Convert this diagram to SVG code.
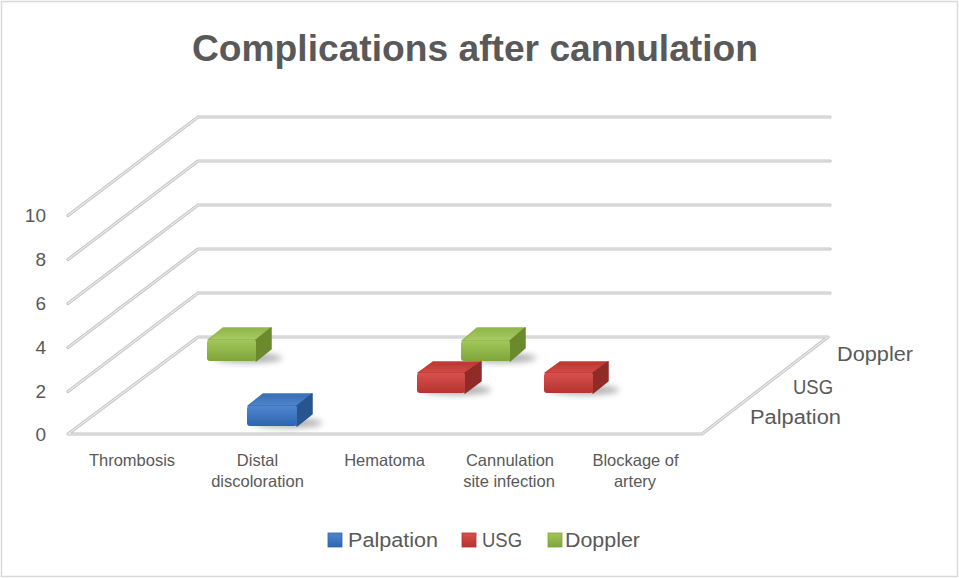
<svg xmlns="http://www.w3.org/2000/svg" width="959" height="578" viewBox="0 0 959 578">
<style>
  text { font-family: "Liberation Sans", Arial, sans-serif; fill: #595959; }
  .title { font-size: 37px; font-weight: bold; }
  .ax { font-size: 19px; text-anchor: end; }
  .cat { font-size: 16.5px; text-anchor: middle; }
  .ser { font-size: 20px; }
  .leg { font-size: 20px; }
  .gridO { fill: none; stroke: #c4c4c4; stroke-width: 3.2; stroke-linejoin: round; stroke-linecap: round; }
  .gridI { fill: none; stroke: #ececec; stroke-width: 1.1; stroke-linejoin: round; stroke-linecap: round; }
  .shadow { fill: #6e6e6e; opacity: 0.55; filter: url(#blur); }
</style>
<defs>
  <filter id="blur" x="-50%" y="-50%" width="200%" height="200%"><feGaussianBlur stdDeviation="3"/></filter>
  <linearGradient id="gF" x1="0" y1="0" x2="0" y2="1"><stop offset="0" stop-color="#a2c659"/><stop offset="1" stop-color="#7fa43a"/></linearGradient>
  <linearGradient id="gT" x1="0" y1="0" x2="0" y2="1"><stop offset="0" stop-color="#90b548"/><stop offset="1" stop-color="#a9cb66"/></linearGradient>
  <linearGradient id="rF" x1="0" y1="0" x2="0" y2="1"><stop offset="0" stop-color="#d8504b"/><stop offset="1" stop-color="#b53330"/></linearGradient>
  <linearGradient id="rT" x1="0" y1="0" x2="0" y2="1"><stop offset="0" stop-color="#b9382f"/><stop offset="1" stop-color="#d44a45"/></linearGradient>
  <linearGradient id="bF" x1="0" y1="0" x2="0" y2="1"><stop offset="0" stop-color="#4d86cf"/><stop offset="1" stop-color="#2e65b0"/></linearGradient>
  <linearGradient id="bT" x1="0" y1="0" x2="0" y2="1"><stop offset="0" stop-color="#3a6db3"/><stop offset="1" stop-color="#4f86cc"/></linearGradient>
</defs>

<rect x="1.5" y="1.5" width="956" height="575" fill="#ffffff" stroke="#d9d9d9" stroke-width="1.5"/>

<text class="title" x="475" y="61" text-anchor="middle" textLength="566" lengthAdjust="spacingAndGlyphs">Complications after cannulation</text>

<g id="grid">
  <polyline class="gridO" points="68,215.5 198,117 830,117"/>
  <polyline class="gridO" points="68,259.5 198,161 830,161"/>
  <polyline class="gridO" points="68,303.5 198,205 830,205"/>
  <polyline class="gridO" points="68,347.5 198,249 830,249"/>
  <polyline class="gridO" points="68,391.5 198,293 830,293"/>
  <polygon class="gridO" points="68,434 198,337 828,337 702,434"/>
  <polyline class="gridI" points="68,215.5 198,117 830,117"/>
  <polyline class="gridI" points="68,259.5 198,161 830,161"/>
  <polyline class="gridI" points="68,303.5 198,205 830,205"/>
  <polyline class="gridI" points="68,347.5 198,249 830,249"/>
  <polyline class="gridI" points="68,391.5 198,293 830,293"/>
  <polygon class="gridI" points="68,434 198,337 828,337 702,434"/>
</g>

<g id="y-axis">
  <text class="ax" x="46" y="222">10</text>
  <text class="ax" x="46" y="266">8</text>
  <text class="ax" x="46" y="310">6</text>
  <text class="ax" x="46" y="354">4</text>
  <text class="ax" x="46" y="398">2</text>
  <text class="ax" x="46" y="441">0</text>
</g>

<g id="bar-doppler-thrombosis">
  <ellipse class="shadow" cx="248" cy="358" rx="34" ry="5"/>
  <path d="M208,340 L223,328 L271,328 L256,340 Z" fill="url(#gT)" stroke="#93b84d" stroke-width="1.5" stroke-linejoin="round"/>
  <path d="M256,340 L271,328 L271,349 L256,361 Z" fill="#6a8a2c" stroke="#6a8a2c" stroke-width="1.5" stroke-linejoin="round"/>
  <rect x="207" y="340" width="49" height="21" rx="3" fill="url(#gF)"/>
</g>

<g id="bar-palpation-distal">
  <ellipse class="shadow" cx="288" cy="423" rx="34" ry="5"/>
  <path d="M248,406 L263,394 L312,394 L297,406 Z" fill="url(#bT)" stroke="#3f73b9" stroke-width="1.5" stroke-linejoin="round"/>
  <path d="M297,406 L312,394 L312,414 L297,426 Z" fill="#285490" stroke="#285490" stroke-width="1.5" stroke-linejoin="round"/>
  <rect x="247" y="406" width="50" height="20" rx="3" fill="url(#bF)"/>
</g>

<g id="bar-doppler-cannulation">
  <ellipse class="shadow" cx="502" cy="358" rx="34" ry="5"/>
  <path d="M462,341 L477,328 L525,328 L510,341 Z" fill="url(#gT)" stroke="#93b84d" stroke-width="1.5" stroke-linejoin="round"/>
  <path d="M510,341 L525,328 L525,348 L510,361 Z" fill="#6a8a2c" stroke="#6a8a2c" stroke-width="1.5" stroke-linejoin="round"/>
  <rect x="461" y="341" width="49" height="20" rx="3" fill="url(#gF)"/>
</g>

<g id="bar-usg-hematoma">
  <ellipse class="shadow" cx="457" cy="390" rx="34" ry="5"/>
  <path d="M418,373 L433,362 L481,362 L465,373 Z" fill="url(#rT)" stroke="#c13d38" stroke-width="1.5" stroke-linejoin="round"/>
  <path d="M465,373 L481,362 L481,381 L465,393 Z" fill="#912b28" stroke="#912b28" stroke-width="1.5" stroke-linejoin="round"/>
  <rect x="417" y="373" width="48" height="20" rx="3" fill="url(#rF)"/>
</g>

<g id="bar-usg-blockage">
  <ellipse class="shadow" cx="585" cy="390" rx="34" ry="5"/>
  <path d="M545,373 L560,362 L608,362 L593,373 Z" fill="url(#rT)" stroke="#c13d38" stroke-width="1.5" stroke-linejoin="round"/>
  <path d="M593,373 L608,362 L608,381 L593,393 Z" fill="#912b28" stroke="#912b28" stroke-width="1.5" stroke-linejoin="round"/>
  <rect x="544" y="373" width="49" height="20" rx="3" fill="url(#rF)"/>
</g>

<g id="categories">
  <text class="cat" x="132" y="466">Thrombosis</text>
  <text class="cat" x="257.5" y="466">Distal</text>
  <text class="cat" x="257.5" y="487">discoloration</text>
  <text class="cat" x="384.5" y="466">Hematoma</text>
  <text class="cat" x="510" y="466">Cannulation</text>
  <text class="cat" x="509" y="487">site infection</text>
  <text class="cat" x="635.5" y="466">Blockage of</text>
  <text class="cat" x="635" y="487">artery</text>
</g>

<g id="series-labels">
  <text class="ser" x="837" y="361" textLength="76" lengthAdjust="spacingAndGlyphs">Doppler</text>
  <text class="ser" x="793" y="394" textLength="40" lengthAdjust="spacingAndGlyphs">USG</text>
  <text class="ser" x="750" y="424" textLength="91" lengthAdjust="spacingAndGlyphs">Palpation</text>
</g>

<g id="legend">
  <rect x="328" y="533" width="14" height="14" fill="url(#bF)" stroke="#2e65b0" stroke-width="0.8"/>
  <text class="leg" x="348" y="547" textLength="90" lengthAdjust="spacingAndGlyphs">Palpation</text>
  <rect x="462" y="533" width="14" height="14" fill="url(#rF)" stroke="#b53330" stroke-width="0.8"/>
  <text class="leg" x="482" y="547" textLength="40" lengthAdjust="spacingAndGlyphs">USG</text>
  <rect x="548" y="533" width="14" height="14" fill="url(#gF)" stroke="#7fa43a" stroke-width="0.8"/>
  <text class="leg" x="565" y="547" textLength="75" lengthAdjust="spacingAndGlyphs">Doppler</text>
</g>
</svg>
